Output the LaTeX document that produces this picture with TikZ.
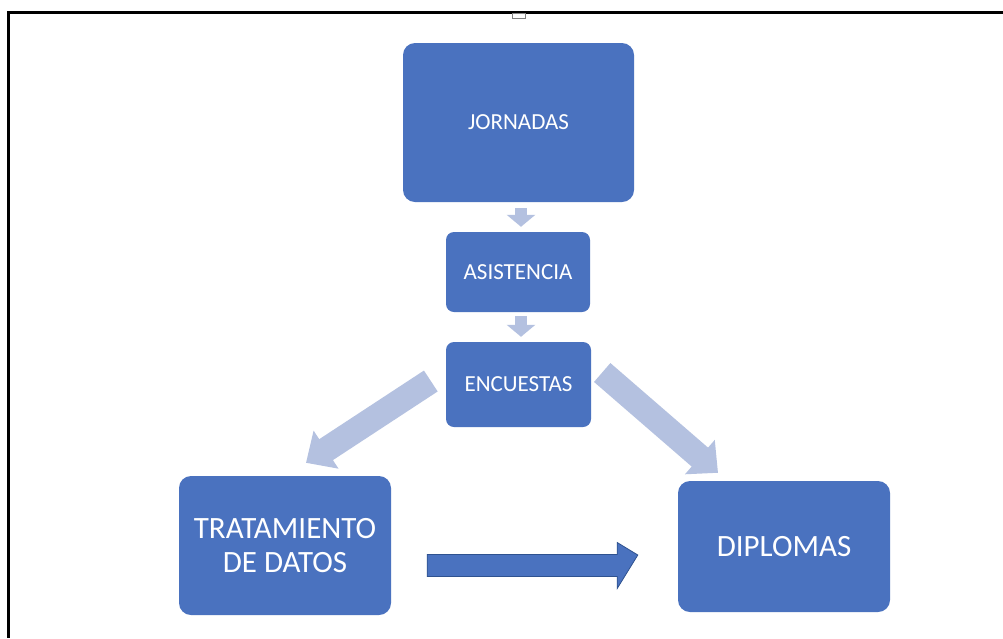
\documentclass[tikz,border=0pt]{standalone}
\usepackage{fontspec}
\setmainfont{Carlito}
\usetikzlibrary{calc,arrows.meta}
\definecolor{boxblue}{HTML}{4A72BF}
\definecolor{lightblue}{HTML}{B4C1E0}
\definecolor{darkedge}{HTML}{2F528F}
\tikzset{
  box/.style={rectangle, rounded corners=12pt, fill=boxblue, draw=none,
    text=white, align=center, inner sep=0pt},
  smalltext/.style={font=\fontsize{23}{26}\selectfont},
  bigtext/.style={font=\fontsize{31}{34}\selectfont},
  smallarrow/.style={draw=lightblue, line width=12pt,
    -{Triangle[width=28pt,length=12pt]}},
  bigarrow/.style={draw=lightblue, line width=25pt,
    -{Triangle[width=44pt,length=24pt]}},
}
\begin{document}
\begin{tikzpicture}[x=1pt,y=-1pt]
\useasboundingbox (0,0) rectangle (1003,638);
\fill[white] (0,0) rectangle (1003,638);
% frame
\draw[line width=3pt] (1003,12) -- (8,12) -- (8,638);
\draw[gray, fill=white, line width=0.8pt] (512,13) rectangle (525,18);
% boxes
\node[box, smalltext, minimum width=231pt, minimum height=159pt] (jor) at (518.5,122.5) {JORNADAS};
\node[box, smalltext, minimum width=144pt, minimum height=80pt, rounded corners=8pt] (asi) at (518,272) {ASISTENCIA};
\node[box, smalltext, minimum width=145pt, minimum height=85pt, rounded corners=8pt] (enc) at (518.5,384.5) {ENCUESTAS};
\node[box, bigtext, minimum width=212pt, minimum height=139pt] (tra) at (285,545.5) {TRATAMIENTO\\DE DATOS};
\node[box, bigtext, minimum width=212pt, minimum height=131pt] (dip) at (784,546.5) {DIPLOMAS};
% small arrows
\draw[smallarrow] ($(jor.south)+(2.5,6)$) -- ($(asi.north)+(3,-5)$);
\draw[smallarrow] ($(asi.south)+(3,4)$) -- ($(enc.north)+(2.5,-5)$);
% big diagonal arrows
\draw[bigarrow] ($(enc.west)+(-15,-3.5)$) -- ($(tra.north)+(21,-13)$);
\draw[bigarrow] ($(enc.east)+(11,-12)$) -- ($(dip.north)+(-66,-8)$);
% horizontal arrow
\coordinate (h0) at ($(tra.east)+(36,9)$);
\draw[darkedge, fill=boxblue, line width=0.8pt, line join=miter]
  (h0) -- ++(190,0) -- ++(0,-12) -- ($(dip.west)+(-40,8.5)$) -- ($(h0)+(190,34)$)
  -- ++(0,-12) -- ++(-190,0) -- cycle;
\end{tikzpicture}
\end{document}
